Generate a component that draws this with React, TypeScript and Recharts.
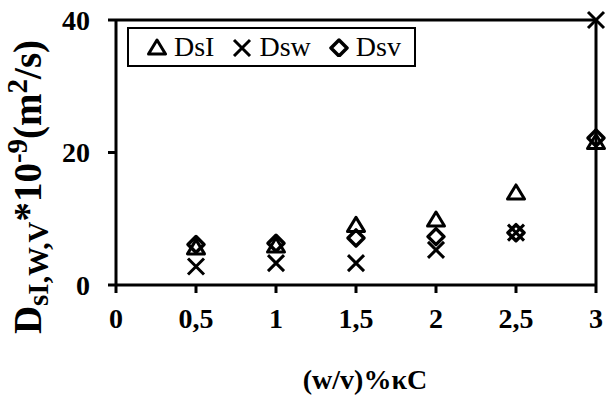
import { ScatterChart, Scatter, XAxis, YAxis, ReferenceLine } from 'recharts';

const xValues = [0.5, 1, 1.5, 2, 2.5, 3];
const dsI = [5.6, 5.9, 9.0, 9.8, 13.9, 21.5];
const dsW = [2.8, 3.3, 3.3, 5.3, 7.9, 40];
const dsV = [6.1, 6.3, 7.1, 7.3, 7.9, 22.2];
const xTicks = [0, 0.5, 1, 1.5, 2, 2.5, 3];
const yTicks = [0, 20, 40];

const toPoints = (ys: number[]) => xValues.map((x, i) => ({ x, y: ys[i] }));

const FONT = 'Liberation Serif';

const Triangle = ({ cx, cy }: any) => (
  <polygon points={`${cx},${cy - 8} ${cx + 8.5},${cy + 6} ${cx - 8.5},${cy + 6}`} fill="none" stroke="#000" strokeWidth={3} strokeLinejoin="round" />
);
const Cross = ({ cx, cy }: any) => (
  <path d={`M${cx - 8},${cy - 8}L${cx + 8},${cy + 8}M${cx + 8},${cy - 8}L${cx - 8},${cy + 8}`} stroke="#000" strokeWidth={3} />
);
const Diamond = ({ cx, cy }: any) => (
  <polygon points={`${cx},${cy - 8} ${cx + 8},${cy} ${cx},${cy + 8} ${cx - 8},${cy}`} fill="none" stroke="#000" strokeWidth={3.5} strokeLinejoin="round" />
);

const legendItems = [
  { name: 'DsI', Shape: Triangle },
  { name: 'Dsw', Shape: Cross },
  { name: 'Dsv', Shape: Diamond },
];

const LegendBox = () => (
  <div style={{ position: 'absolute', left: 127, top: 27, width: 289, height: 40, border: '2.5px solid #000', boxSizing: 'border-box', background: '#fff', display: 'flex', alignItems: 'center', paddingLeft: 18, fontFamily: FONT, fontSize: 28 }}>
    {legendItems.map(({ name, Shape }) => (
      <div key={name} style={{ display: 'flex', alignItems: 'center', marginRight: 18 }}>
        <svg width={20} height={20} style={{ marginRight: 7 }}>
          <Shape cx={10} cy={11} />
        </svg>
        <span>{name}</span>
      </div>
    ))}
  </div>
);

const YLabel = ({ viewBox }: any) => {
  const x = viewBox.x + 41;
  const y = 187;
  return (
    <text x={x} y={y} transform={`rotate(-90, ${x}, ${y})`} textAnchor="middle" style={{ fontFamily: FONT, fontWeight: 'bold', fontSize: 39 }} fill="#000">
      D<tspan fontSize={29} dy={7}>sI,W,V</tspan>
      <tspan dy={-7}>*10</tspan>
      <tspan fontSize={29} dy={-14}>-9</tspan>
      <tspan dy={14}>(m</tspan>
      <tspan fontSize={29} dy={-14}>2</tspan>
      <tspan dy={14}>/s)</tspan>
    </text>
  );
};

const XLabel = ({ viewBox }: any) => (
  <text x={viewBox.x + viewBox.width / 2 + 9} y={viewBox.y + 104} textAnchor="middle" style={{ fontFamily: FONT, fontWeight: 'bold', fontSize: 28 }} fill="#000">
    (w/v)%κC
  </text>
);

export default function App() {
  const tickStyle = { fill: '#000', fontSize: 28, fontWeight: 'bold', style: { fontFamily: FONT } };
  return (
    <div style={{ width: 609, height: 398, background: '#fff', position: 'relative', fontFamily: FONT }}>
      <style>{`body{margin:0}`}</style>
      <ScatterChart width={609} height={398} margin={{ top: 20, right: 13, bottom: 53, left: 0 }}>
        <XAxis
          type="number"
          dataKey="x"
          domain={[0, 3]}
          ticks={xTicks}
          height={60}
          tick={tickStyle}
          tickSize={8}
          tickMargin={15}
          tickFormatter={v => String(v).replace('.', ',')}
          axisLine={{ stroke: '#000', strokeWidth: 3 }}
          tickLine={{ stroke: '#000', strokeWidth: 3 }}
          label={{ content: XLabel }}
        />
        <YAxis
          type="number"
          dataKey="y"
          domain={[0, 40]}
          ticks={yTicks}
          width={116}
          tick={tickStyle}
          tickSize={8}
          tickMargin={18}
          axisLine={{ stroke: '#000', strokeWidth: 3 }}
          tickLine={{ stroke: '#000', strokeWidth: 3 }}
          label={{ content: YLabel }}
        />
        <ReferenceLine y={40} stroke="#000" strokeWidth={3} />
        <ReferenceLine x={3} stroke="#000" strokeWidth={3} />
        <Scatter name="DsI" data={toPoints(dsI)} shape={Triangle} isAnimationActive={false} />
        <Scatter name="Dsw" data={toPoints(dsW)} shape={Cross} isAnimationActive={false} />
        <Scatter name="Dsv" data={toPoints(dsV)} shape={Diamond} isAnimationActive={false} />
      </ScatterChart>
      <LegendBox />
    </div>
  );
}
